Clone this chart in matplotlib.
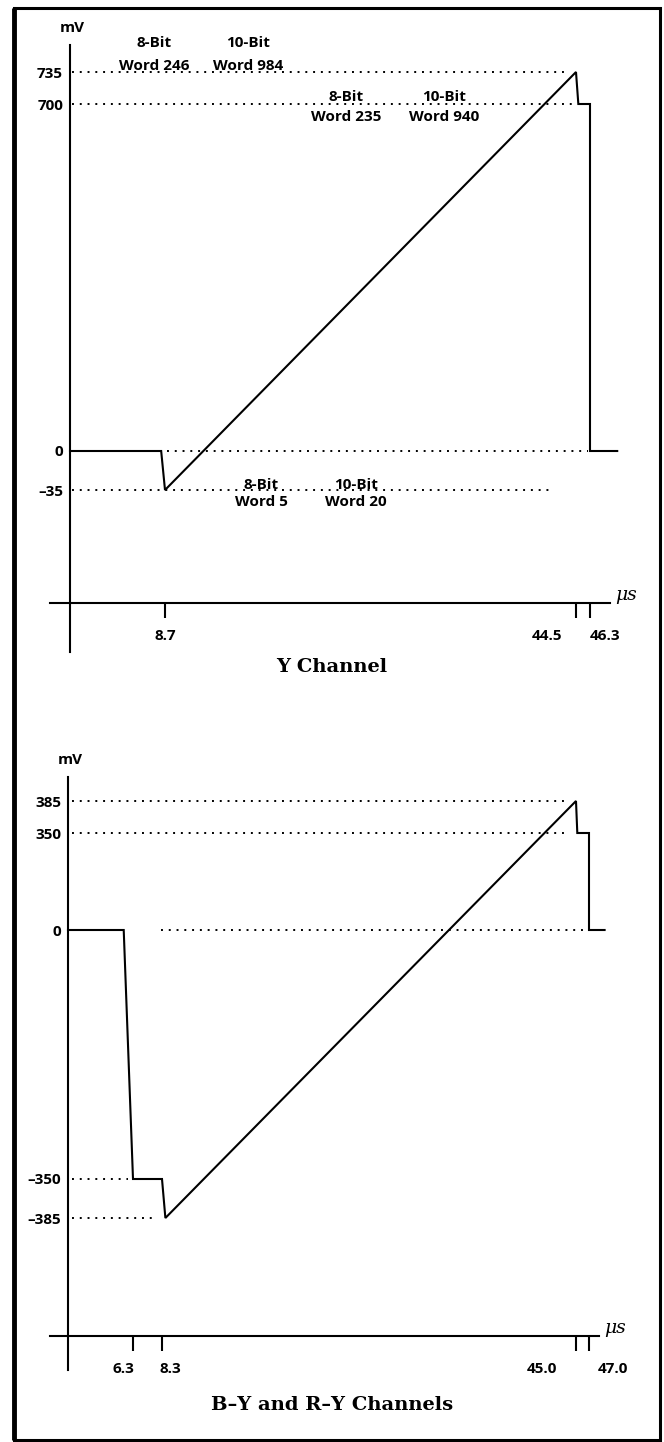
import numpy as np
import matplotlib
matplotlib.use("Agg")
import matplotlib.pyplot as plt
from matplotlib.patches import Rectangle
from matplotlib.lines import Line2D

W, H = 664, 1442

# ---- Y channel (time in us, level in mV) ----
y_time = [0, 8.35, 8.7, 44.5, 44.8, 46.3, 46.3, 49.8]
y_mv = [0, 0, -35, 735, 700, 700, 0, 0]
y_levels = [735, 700, 0, -35]
y_level_labels = ["735", "700", "0", "–35"]
y_ref_start = [0.2, 0.2, 8.9, 0.2]
y_ref_end = [43.8, 44.15, 46.0, 42.6]
y_ticks = [8.7, 44.5, 46.3]
y_tick_labels = ["8.7", "44.5", "46.3"]
y_tick_shift = [0, -29, 15]
# (bit label, word label, x in us, level, top-line shift px, bottom-line shift px)
y_words = [("8-Bit", "Word 246", 7.7, 735, 29, 6),
           ("10-Bit", "Word 984", 15.9, 735, 29, 6),
           ("8-Bit", "Word 235", 24.5, 700, 7, -13),
           ("10-Bit", "Word 940", 33.0, 700, 7, -13),
           ("8-Bit", "Word 5", 17.1, -35, 5, -12),
           ("10-Bit", "Word 20", 25.3, -35, 5, -12)]

# ---- B-Y and R-Y channels ----
c_time = [0, 5.4, 6.3, 8.3, 8.6, 45.0, 45.2, 47.0, 47.0, 49.4]
c_mv = [0, 0, -350, -350, -385, 385, 350, 350, 0, 0]
c_levels = [385, 350, 0, -350, -385]
c_level_labels = ["385", "350", "0", "–350", "–385"]
c_ref_start = [0.4, 0.4, 8.2, 0.4, 0.4]
c_ref_end = [44.0, 44.1, 46.1, 5.8, 7.95]
c_ticks = [6.3, 8.3, 45.0, 47.0]
c_tick_labels = ["6.3", "8.3", "45.0", "47.0"]
c_tick_shift = [-10, 8, -34, 24]


def piecewise(src, dst):
    src = np.asarray(src, float)
    dst = np.asarray(dst, float)
    lo = (dst[1] - dst[0]) / (src[1] - src[0])
    hi = (dst[-1] - dst[-2]) / (src[-1] - src[-2])

    def f(v):
        v = np.asarray(v, float)
        out = np.interp(v, src, dst)
        out = np.where(v < src[0], dst[0] + (v - src[0]) * lo, out)
        out = np.where(v > src[-1], dst[-1] + (v - src[-1]) * hi, out)
        return out
    return f


LBL = dict(family="Open Sans", weight="bold", fontsize=11)


def panel(top, bottom, xs_real, xs_px, ys_real, ys_px, axis, t, v,
          levels, level_labels, ref_start, ref_end, ticks, tick_labels,
          tick_shift, title, title_y):
    ax = plt.axes([0, 1 - bottom / H, 1, (bottom - top) / H])
    fx, ix = piecewise(xs_real, xs_px), piecewise(xs_px, xs_real)
    ypx = [-p for p in ys_px]
    fy, iy = piecewise(ys_real, ypx), piecewise(ypx, ys_real)
    ax.set_xscale("function", functions=(fx, ix))
    ax.set_yscale("function", functions=(fy, iy))
    ax.set_xlim(float(ix(0)), float(ix(W)))
    ax.set_ylim(float(iy(-bottom)), float(iy(-top)))
    ax.patch.set_alpha(0)

    x0, yax_top, yax_bot, xax_y, xax_l, xax_r = axis
    for s in ["top", "right"]:
        ax.spines[s].set_visible(False)
    ax.spines["left"].set_position(("data", 0))
    ax.spines["left"].set_bounds(float(iy(-yax_bot)), float(iy(-yax_top)))
    ax.spines["bottom"].set_position(("data", float(iy(-xax_y))))
    ax.spines["bottom"].set_bounds(float(ix(xax_l)), float(ix(xax_r)))
    for s in ["left", "bottom"]:
        ax.spines[s].set_linewidth(1.5)

    ax.set_yticks(levels, level_labels)
    ax.tick_params(axis="y", length=0, pad=5)
    for lab in ax.get_yticklabels():
        lab.set(**LBL)
    ax.set_xticks(ticks, [""] * len(ticks))
    ax.tick_params(axis="x", direction="out", length=11, width=1.5)
    ax.xaxis.set_minor_locator(plt.NullLocator())
    ax.yaxis.set_minor_locator(plt.NullLocator())

    ax.hlines(levels, ref_start, ref_end, colors="black",
              linestyles=(0, (1, 3)), linewidth=1.4)
    ax.plot(t, v, color="black", linewidth=1.5, solid_joinstyle="miter")

    xa = float(iy(-xax_y))
    for tk, tl, dx in zip(ticks, tick_labels, tick_shift):
        ax.annotate(tl, xy=(tk, xa), xytext=(dx * 0.72, -33 * 0.72),
                    textcoords="offset points", ha="center", va="center", **LBL)
    ax.annotate("mV", xy=(0, float(iy(-yax_top))), xytext=(1.5, 7),
                textcoords="offset points", ha="center", va="bottom", **LBL)
    ax.annotate("μs", xy=(float(ix(xax_r)), xa), xytext=(4, -1),
                textcoords="offset points", ha="left", va="bottom",
                family="DejaVu Serif", style="italic", fontsize=13.5)
    fig.text(0.5, 1 - title_y / H, title, ha="center", va="center",
             family="DejaVu Serif", weight="bold", fontsize=14)
    return ax


fig = plt.figure(figsize=(W / 100, H / 100), dpi=100)

ax1 = panel(0, 705, [0, 8.7, 44.5, 46.3], [70, 165, 576, 590],
            [-35, 0, 700, 735], [490, 451, 104, 72],
            (70, 45, 652, 603, 50, 610), y_time, y_mv,
            y_levels, y_level_labels, y_ref_start, y_ref_end,
            y_ticks, y_tick_labels, y_tick_shift, "Y Channel", 667)
for bit, word, x, lv, d_top, d_bot in y_words:
    ax1.annotate(bit, xy=(x, lv), xytext=(0, d_top * 0.72), textcoords="offset points",
                 ha="center", va="center", **LBL)
    ax1.annotate(word, xy=(x, lv), xytext=(0, d_bot * 0.72), textcoords="offset points",
                 ha="center", va="center", **LBL)

ax2 = panel(705, H, [0, 6.3, 8.3, 45.0, 47.0], [68, 133, 162, 576, 589],
            [-385, -350, 0, 350, 385], [1218, 1179, 930, 833, 801],
            (68, 777, 1370, 1336, 50, 599), c_time, c_mv,
            c_levels, c_level_labels, c_ref_start, c_ref_end,
            c_ticks, c_tick_labels, c_tick_shift, "B–Y and R–Y Channels", 1405)

# frame round the whole figure, left side heavier
fig.patches.append(Rectangle((14 / W, 2 / H), (660 - 14) / W, (1440 - 8) / H,
                             transform=fig.transFigure, fill=False,
                             edgecolor="black", linewidth=2.2))
fig.add_artist(Line2D([14 / W, 14 / W], [2 / H, 1 - 8 / H],
                      transform=fig.transFigure, color="black", linewidth=3.5,
                      solid_capstyle="butt"))

fig.savefig("out.png", dpi=100)
